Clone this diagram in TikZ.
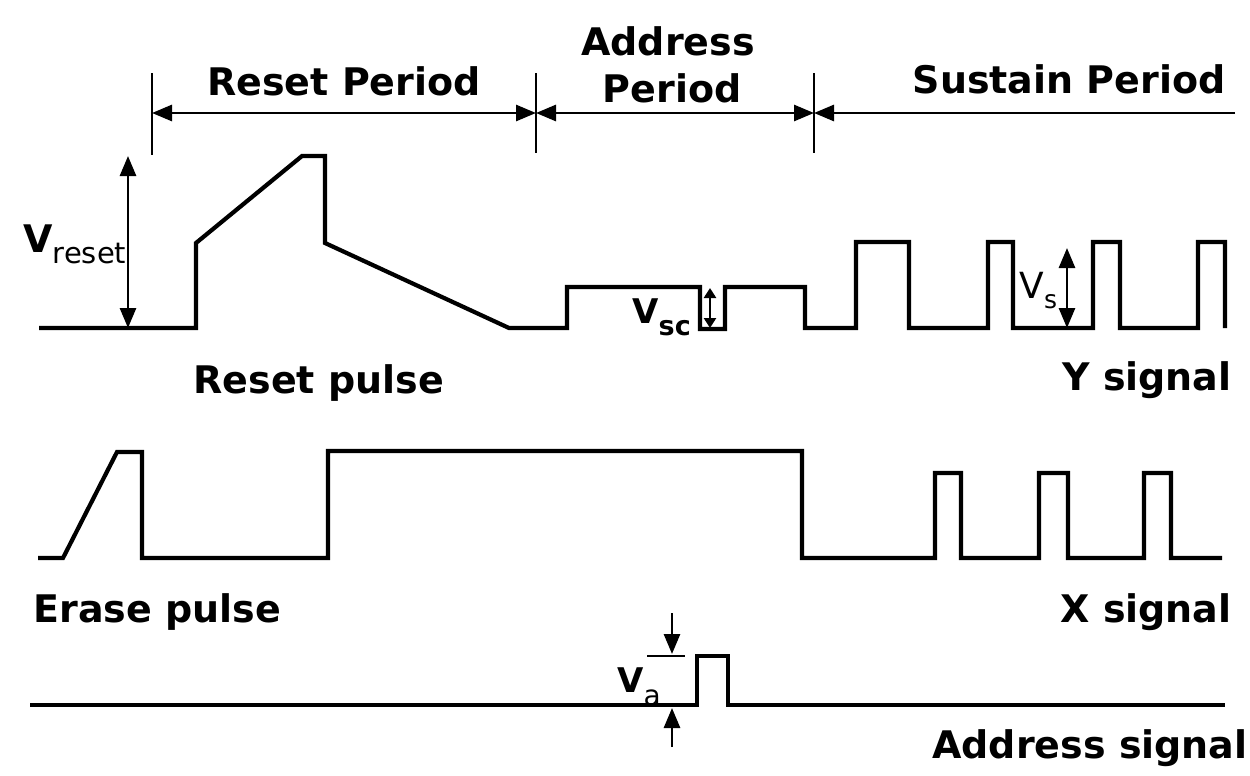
\documentclass[tikz,border=0pt]{standalone}
\usepackage{fontspec}
\setmainfont{DejaVu Sans}
\usetikzlibrary{arrows.meta}
\begin{document}
\begin{tikzpicture}[x=0.5pt,y=-0.5pt,
  sig/.style={line width=2.1pt, line join=miter},
  tickline/.style={line width=1.4pt},
  dimone/.style={line width=1.4pt, -{Triangle[length=10pt,width=8pt]}},
  dimboth/.style={line width=1.4pt, {Triangle[length=10pt,width=8pt]}-{Triangle[length=10pt,width=8pt]}},
  dimsmall/.style={line width=1.3pt, {Triangle[length=5pt,width=6pt]}-{Triangle[length=5pt,width=6pt]}},
  lbl/.style={font=\fontsize{19}{22}\selectfont\bfseries, inner sep=0pt},
  vlbl/.style={inner sep=0pt, anchor=base west},
]
\useasboundingbox (0,0) rectangle (1250,776);

% ---------- period markers ----------
\coordinate (t1a) at (152,73);  \coordinate (t1b) at (152,155);
\coordinate (t2a) at (536,73);  \coordinate (t2b) at (536,153);
\coordinate (t3a) at (814,73);  \coordinate (t3b) at (814,153);
\draw[tickline] (t1a) -- (t1b);
\draw[tickline] (t2a) -- (t2b);
\draw[tickline] (t3a) -- (t3b);
\coordinate (r1) at (152,113); \coordinate (r2) at (536,113);
\coordinate (s1) at (814,113); \coordinate (s2) at (1235,113);
\draw[dimboth] (r1) -- (r2);
\draw[dimboth] (r2) -- (s1);
\draw[dimone] (s2) -- (s1);

\node[lbl, anchor=base] (rp) at (344,95) {Reset Period};
\node[lbl, anchor=base] (ap1) at (668,55) {Address};
\node[lbl, anchor=base] (ap2) at (672,103) {Period};
\node[lbl, anchor=base east] (sp) at (1226,93) {Sustain Period};

% ---------- Y signal ----------
\draw[sig] (39,328) -- (196,328) -- (196,243) -- (302,156) -- (325,156)
  -- (325,243) -- (509,328) -- (567,328) -- (567,287) -- (700,287)
  -- (700,329) -- (725,329) -- (725,287) -- (805,287) -- (805,328)
  -- (856,328) -- (856,242) -- (909,242) -- (909,328)
  -- (988,328) -- (988,242) -- (1013,242) -- (1013,328)
  -- (1093,328) -- (1093,242) -- (1120,242) -- (1120,328)
  -- (1198,328) -- (1198,242) -- (1225,242) -- (1225,328);

\coordinate (vr1) at (128,156); \coordinate (vr2) at (128,328);
\draw[dimboth] (vr1) -- (vr2);
\node[vlbl] (vreset) at (23,252)
  {\fontsize{19}{22}\selectfont\bfseries V\raisebox{-5.5pt}{\fontsize{14.5}{15}\selectfont\mdseries reset}};

\coordinate (vsc1) at (710,288); \coordinate (vsc2) at (710,328);
\draw[dimsmall] (vsc1) -- (vsc2);
\node[vlbl] (vsc) at (632,323)
  {\fontsize{17}{20}\selectfont\bfseries V\raisebox{-6pt}{\fontsize{13.5}{14}\selectfont sc}};

\coordinate (vs1) at (1067,248); \coordinate (vs2) at (1067,328);
\draw[dimboth] (vs1) -- (vs2);
\node[vlbl] (vs) at (1019,298)
  {\fontsize{18}{20}\selectfont V\raisebox{-5pt}{\fontsize{12.5}{13}\selectfont s}};

\node[lbl, anchor=base west] (resetpulse) at (193,393) {Reset pulse};
\node[lbl, anchor=base east] (ysig) at (1232,390) {Y signal};

% ---------- X signal ----------
\draw[sig] (38,558) -- (63,558) -- (117,452) -- (142,452) -- (142,558)
  -- (328,558) -- (328,451) -- (802,451) -- (802,558)
  -- (935,558) -- (935,473) -- (961,473) -- (961,558)
  -- (1039,558) -- (1039,473) -- (1068,473) -- (1068,558)
  -- (1144,558) -- (1144,473) -- (1171,473) -- (1171,558) -- (1222,558);

\node[lbl, anchor=base west] (erase) at (33,622) {Erase pulse};
\node[lbl, anchor=base east] (xsig) at (1232,622) {X signal};

% ---------- Address signal ----------
\draw[sig] (30,705) -- (697,705) -- (697,656) -- (728,656) -- (728,705) -- (1225,705);
\coordinate (va0) at (647,656); \coordinate (va0b) at (685,656);
\draw[line width=1.2pt] (va0) -- (va0b);
\coordinate (va1) at (672,613); \coordinate (va2) at (672,654);
\coordinate (va3) at (672,747); \coordinate (va4) at (672,708);
\draw[dimone] (va1) -- (va2);
\draw[dimone] (va3) -- (va4);
\node[vlbl] (va) at (617,692)
  {\fontsize{17}{20}\selectfont\bfseries V\raisebox{-6.5pt}{\fontsize{14}{14}\selectfont\mdseries a}};

\node[lbl, anchor=base east] (asig) at (1248,758) {Address signal};
\end{tikzpicture}
\end{document}
